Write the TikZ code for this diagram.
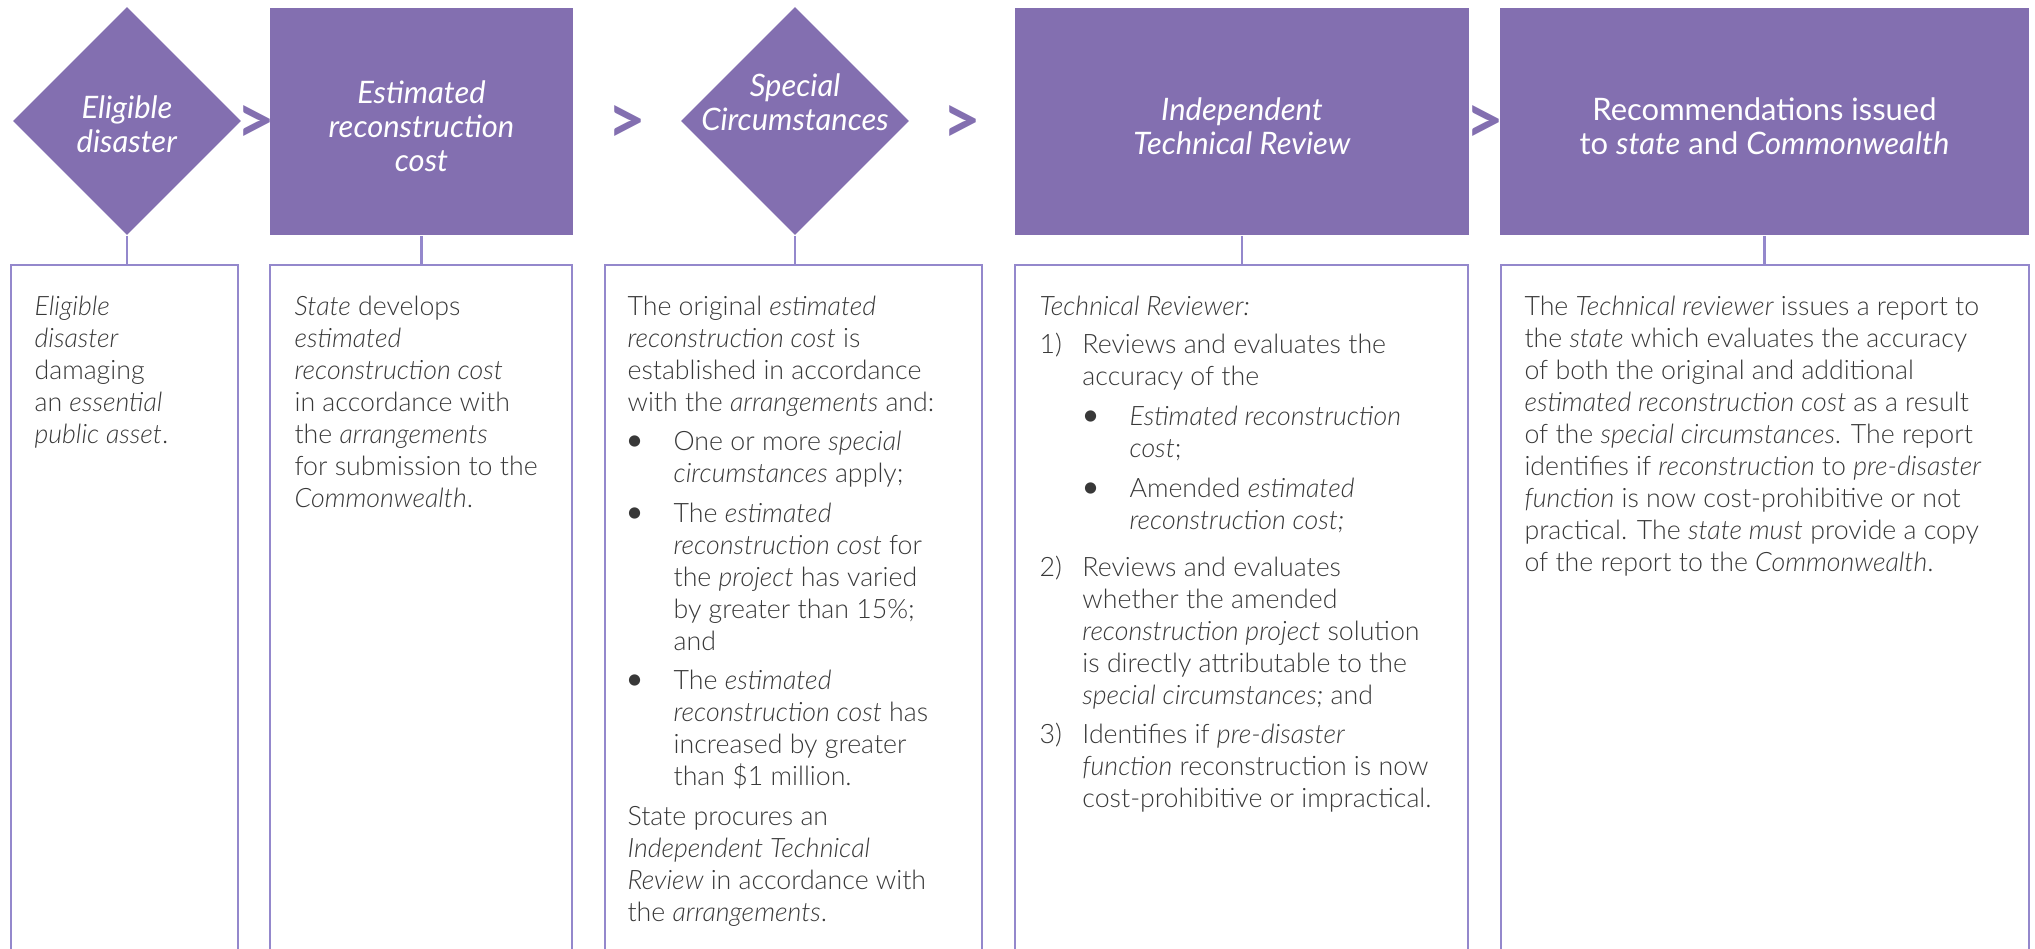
\documentclass[tikz,border=0pt]{standalone}
\usepackage{fontspec}
\setmainfont{Lato}[UprightFont={* Light}, ItalicFont={* Light Italic},
  BoldFont={* Bold}, BoldItalicFont={* Bold Italic}]
\newfontfamily\headfont{Lato}
\usetikzlibrary{shapes.geometric}
\usetikzlibrary{positioning}

\definecolor{drfpurple}{HTML}{836FB0}
\definecolor{drfline}{HTML}{9488CC}
\definecolor{drftext}{HTML}{383838}

\def\numw{12.2pt}
\def\subt{13.4pt}
\def\bulw{13.1pt}

% bullet: centre offset, total width
\newcommand{\bul}[2]{\makebox[#2][l]{\hspace{#1}\makebox[0pt]{\headfont\fontsize{8.6}{9}\selectfont\textbullet}}}

\tikzset{
  head/.style={fill=drfpurple, draw=none, inner sep=0pt},
  dmd/.style={head, diamond, minimum width=2.28cm, minimum height=2.28cm},
  hbox/.style={head, rectangle, minimum height=2.27cm},
  htext/.style={text=white, align=center, inner sep=0pt,
    font=\headfont\fontsize{8.8}{9.7}\selectfont},
  panel/.style={draw=drfline, line width=0.6pt, rectangle, inner sep=0pt,
    minimum height=7cm},
  body/.style={text=drftext, align=left, inner sep=0pt,
    font=\fontsize{7.6}{9.1}\selectfont},
  link/.style={draw=drfline, line width=0.6pt},
  chev/.style={text=drfpurple, inner sep=0pt, yshift=-0.03cm,
    font=\headfont\fontsize{19}{19}\selectfont\bfseries},
}

\begin{document}
\begin{tikzpicture}[x=0.01cm, y=0.01cm]
  \useasboundingbox (0,0) rectangle (2035,-949);
  \clip (0,0) rectangle (2035,-949);

  %------------------
  % top row
  %------------------
  \node[dmd] (d1) at (127,-121) {};
  \node[htext] (h1) at (127,-124) {\textit{Eligible}\\\textit{disaster}};

  \node[hbox, minimum width=3.03cm] (b2) at (421.5,-121.5) {};
  \node[htext] (h2) at (421.5,-126.5)
    {\textit{Estimated}\\\textit{reconstruction}\\\textit{cost}};

  \node[dmd] (d3) at (795,-121) {};
  \node[htext] (h3) at (795,-102) {\textit{Special}\\\textit{Circumstances}};

  \node[hbox, minimum width=4.54cm] (b4) at (1242,-121.5) {};
  \node[htext] (h4) at (1242,-126.5) {\textit{Independent}\\\textit{Technical Review}};

  \node[hbox, minimum width=5.29cm] (b5) at (1764.5,-121.5) {};
  \node[htext] (h5) at (1764.5,-126.5)
    {Recommendations issued\\to \textit{state} and \textit{Commonwealth}};

  % chevrons
  \path (d1.east) -- (b2.west) node[midway, chev] (c1) {>};
  \path (b2.east) -- (d3.west) node[midway, chev] (c2) {>};
  \path (d3.east) -- (b4.west) node[midway, chev] (c3) {>};
  \path (b4.east) -- (b5.west) node[midway, chev] (c4) {>};

  %------------------
  % panels
  %------------------
  \node[panel, minimum width=2.27cm, anchor=north] (pa) at (124.5,-264) {};
  \node[panel, minimum width=3.02cm, anchor=north] (pb) at (421,-264) {};
  \node[panel, minimum width=3.77cm, anchor=north] (pc) at (793.5,-264) {};
  \node[panel, minimum width=4.53cm, anchor=north] (pd) at (1241.5,-264) {};
  \node[panel, minimum width=5.28cm, anchor=north] (pe) at (1765,-264) {};

  \draw[link] (d1.south) -- (d1.south |- pa.north);
  \draw[link] (b2.south) -- (b2.south |- pb.north);
  \draw[link] (d3.south) -- (d3.south |- pc.north);
  \draw[link] (b4.south) -- (b4.south |- pd.north);
  \draw[link] (b5.south) -- (b5.south |- pe.north);

  %------------------
  % panel texts
  %------------------
  \node[body, below right=0.286cm and 0.24cm of pa.north west] (ta)
    {\strut\textit{Eligible}\\
     \textit{disaster}\\
     damaging\\
     an \textit{essential}\\
     \textit{public asset}.};

  \node[body, below right=0.286cm and 0.25cm of pb.north west] (tb)
    {\strut\textit{State} develops\\
     \textit{estimated}\\
     \textit{reconstruction cost}\\
     in accordance with\\
     the \textit{arrangements}\\
     for submission to the\\
     \textit{Commonwealth}.};

  \node[body, below right=0.286cm and 0.23cm of pc.north west] (tc)
    {\strut The original \textit{estimated}\\
     \textit{reconstruction cost} is\\
     established in accordance\\
     with the \textit{arrangements} and:\\[2pt]
     \bul{2pt}{\bulw}One or more \textit{special}\\
     \hspace*{\bulw}\textit{circumstances} apply;\\[2.3pt]
     \bul{2pt}{\bulw}The \textit{estimated}\\
     \hspace*{\bulw}\textit{reconstruction cost} for\\
     \hspace*{\bulw}the \textit{project} has varied\\
     \hspace*{\bulw}by greater than 15\%;\\
     \hspace*{\bulw}and\\[2pt]
     \bul{2pt}{\bulw}The \textit{estimated}\\
     \hspace*{\bulw}\textit{reconstruction cost} has\\
     \hspace*{\bulw}increased by greater\\
     \hspace*{\bulw}than \$1 million.\\[2.3pt]
     State procures an\\
     \textit{Independent Technical}\\
     \textit{Review} in accordance with\\
     the \textit{arrangements}.};

  \node[body, below right=0.286cm and 0.25cm of pd.north west] (td)
    {\strut\textit{Technical Reviewer:}\\[1.7pt]
     \makebox[\numw][l]{1)}Reviews and evaluates the\\
     \hspace*{\numw}accuracy of the\\[2.3pt]
     \hspace*{\numw}\bul{2.3pt}{\subt}\textit{Estimated reconstruction}\\
     \hspace*{\numw}\hspace*{\subt}\textit{cost};\\[2.3pt]
     \hspace*{\numw}\bul{2.3pt}{\subt}Amended \textit{estimated}\\
     \hspace*{\numw}\hspace*{\subt}\textit{reconstruction cost;}\\[4.2pt]
     \makebox[\numw][l]{2)}Reviews and evaluates\\
     \hspace*{\numw}whether the amended\\
     \hspace*{\numw}\textit{reconstruction project} solution\\
     \hspace*{\numw}is directly attributable to the\\
     \hspace*{\numw}\textit{special circumstances;} and\\[2pt]
     \makebox[\numw][l]{3)}Identifies if \textit{pre-disaster}\\
     \hspace*{\numw}\textit{function} reconstruction is now\\
     \hspace*{\numw}cost-prohibitive or impractical.};

  \node[body, below right=0.286cm and 0.24cm of pe.north west] (te)
    {\strut The \textit{Technical reviewer} issues a report to\\
     the \textit{state} which evaluates the accuracy\\
     of both the original and additional\\
     \textit{estimated reconstruction cost} as a result\\
     of the \textit{special circumstances}. The report\\
     identifies if \textit{reconstruction} to \textit{pre-disaster}\\
     \textit{function} is now cost-prohibitive or not\\
     practical. The \textit{state must} provide a copy\\
     of the report to the \textit{Commonwealth}.};
\end{tikzpicture}
\end{document}
